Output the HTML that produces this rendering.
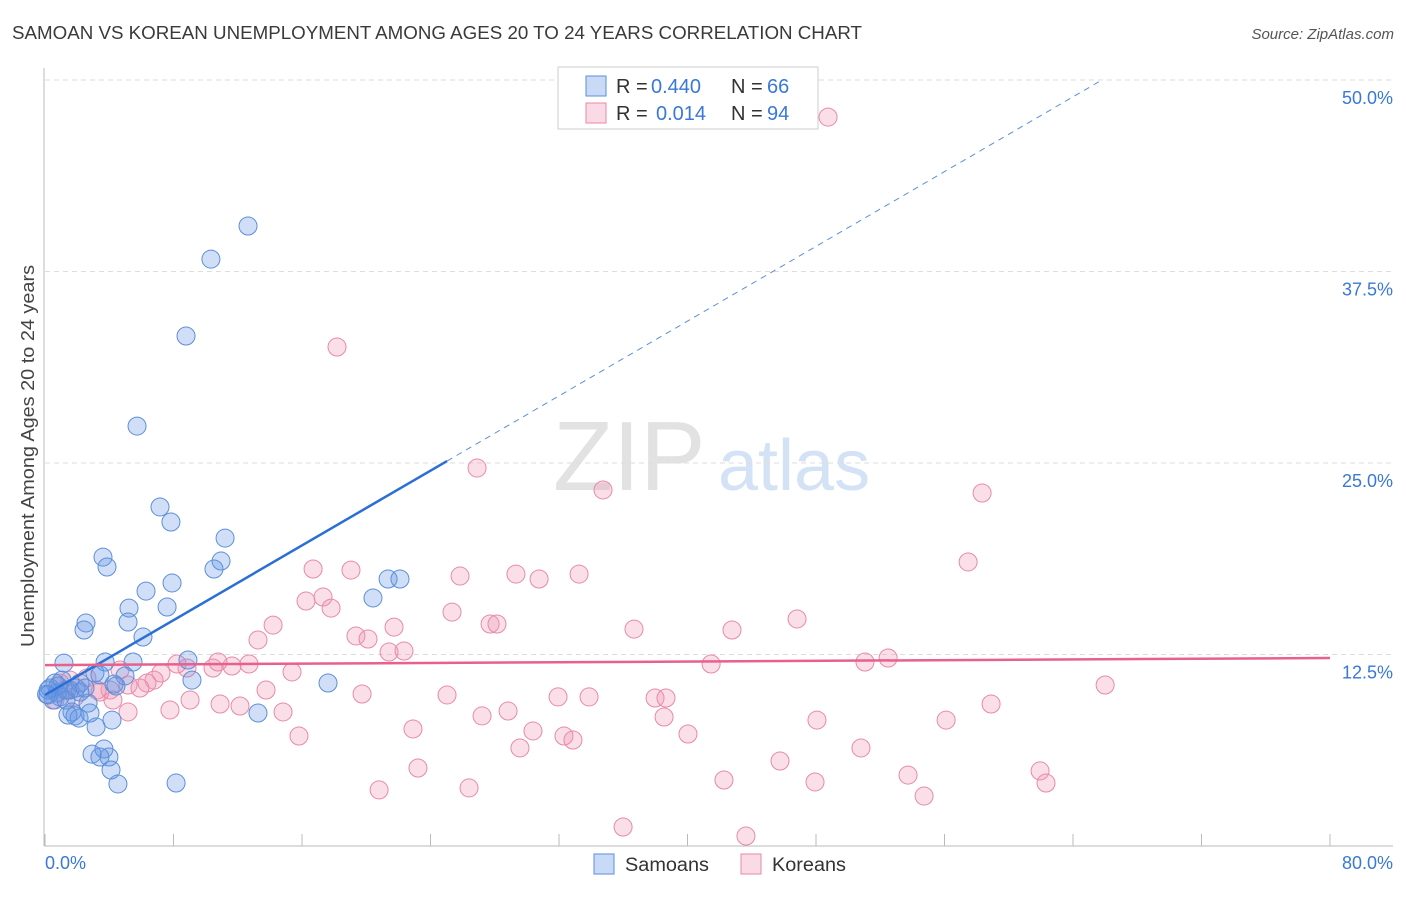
<!DOCTYPE html>
<html><head><meta charset="utf-8"><style>
body{margin:0;background:#fff;font-family:"Liberation Sans",sans-serif;}
svg text{font-family:"Liberation Sans",sans-serif;}
</style></head><body>
<svg id="chart" width="1406" height="892" xmlns="http://www.w3.org/2000/svg">
<text x="12" y="39" font-size="18.6" fill="#3a3a3a" textLength="850" lengthAdjust="spacingAndGlyphs">SAMOAN VS KOREAN UNEMPLOYMENT AMONG AGES 20 TO 24 YEARS CORRELATION CHART</text>
<text x="1394" y="39" font-size="15" fill="#555" text-anchor="end" font-style="italic">Source: ZipAtlas.com</text>
<g>
<text x="553" y="490" font-size="98" fill="#e2e2e2" font-family="Liberation Serif,serif">ZIP</text>
<text x="718" y="490" font-size="72" fill="#d4e2f5">atlas</text>
</g>
<g id="grid"></g>
<g id="axes"></g>
<g id="marks"></g>
<text transform="translate(34,456) rotate(-90)" font-size="18" fill="#444" text-anchor="middle" textLength="382" lengthAdjust="spacingAndGlyphs">Unemployment Among Ages 20 to 24 years</text>
<g>
<rect x="558" y="67" width="260" height="62" fill="#fff" stroke="#ccc"/>
<rect x="586" y="76" width="20" height="20" fill="rgba(100,150,230,0.35)" stroke="#5b8fd9"/>
<rect x="586" y="103" width="20" height="20" fill="rgba(240,150,180,0.35)" stroke="#e88aa8"/>
<text x="616" y="93" font-size="20" fill="#333">R =</text>
<text x="651" y="93" font-size="20" fill="#3a78d8">0.440</text>
<text x="731" y="93" font-size="20" fill="#333">N =</text>
<text x="767" y="93" font-size="20" fill="#3a78d8">66</text>
<text x="616" y="120" font-size="20" fill="#333">R =</text>
<text x="656" y="120" font-size="20" fill="#3a78d8">0.014</text>
<text x="731" y="120" font-size="20" fill="#333">N =</text>
<text x="767" y="120" font-size="20" fill="#3a78d8">94</text>
</g>
<g>
<rect x="594" y="854" width="20" height="20" fill="rgba(100,150,230,0.35)" stroke="#5b8fd9"/>
<text x="625" y="871" font-size="19" fill="#333" textLength="84" lengthAdjust="spacingAndGlyphs">Samoans</text>
<rect x="741" y="854" width="20" height="20" fill="rgba(240,150,180,0.35)" stroke="#e88aa8"/>
<text x="772" y="871" font-size="19" fill="#333" textLength="74" lengthAdjust="spacingAndGlyphs">Koreans</text>
</g>
</svg>
<script>
const blueX=[12.64,10.33,8.78,5.73,7.16,7.84,11.21,10.96,10.52,3.61,3.86,6.29,7.91,7.60,5.23,5.17,2.55,2.43,6.10,21.36,22.10,20.42,1.18,3.74,8.90,5.48,3.11,4.98,17.62,9.15,4.30,4.42,0.62,1.06,2.18,0.31,0.19,0.93,1.56,2.18,0.50,0.75,2.68,1.68,1.87,2.12,2.80,4.17,3.18,13.26,3.67,3.98,2.93,3.42,4.11,4.54,8.16,1.37,0.81,1.93,2.49,1.31,3.42,1.43,0.2,0.1];
const blueY=[40.47,38.31,33.29,27.41,22.13,21.15,20.10,18.60,18.08,18.86,18.21,16.64,17.17,15.60,15.53,14.62,14.56,14.10,13.64,17.43,17.43,16.19,11.94,12.01,12.14,12.01,11.29,11.10,10.64,10.83,10.57,10.44,10.64,10.83,10.64,10.31,9.86,9.73,10.18,10.05,9.53,9.99,9.33,8.75,8.49,8.35,8.68,8.22,7.77,8.68,6.33,5.81,6.00,5.81,4.96,4.05,4.11,10.18,10.44,10.31,10.31,9.53,11.16,8.55,10.18,9.9];
const pinkX=[18.18,26.90,34.74,58.34,57.47,16.69,19.05,25.84,29.32,30.76,33.25,16.25,17.31,17.81,25.34,27.71,28.14,21.73,46.82,36.67,42.77,19.36,20.11,13.26,14.20,21.42,22.35,41.47,51.05,52.49,66.00,10.46,12.70,11.64,10.77,8.84,8.22,7.22,6.79,6.35,5.17,4.05,4.23,3.24,2.61,0.93,0.62,10.90,12.14,13.76,15.38,19.74,25.03,31.94,33.87,37.98,38.66,5.17,7.78,14.82,15.81,22.91,27.21,28.83,30.38,32.31,32.87,29.57,38.54,40.03,48.06,56.10,58.90,45.76,50.80,23.22,20.80,26.40,42.27,47.94,53.73,54.73,61.95,62.32,35.99,43.64,48.75,4.67,1.87,1.25,1.56,3.42,5.91,9.03];
const pinkY=[32.57,24.67,23.24,23.04,18.54,18.08,18.01,17.62,17.75,17.43,17.75,15.99,16.25,15.53,15.27,14.49,14.49,14.29,14.82,14.16,14.10,13.71,13.51,13.45,14.42,12.66,12.73,11.88,12.01,12.27,10.51,11.62,11.88,11.75,12.01,11.62,11.88,11.29,10.83,10.64,10.51,10.18,9.53,10.18,10.97,10.64,9.53,9.27,9.14,10.18,11.36,9.92,9.86,9.73,9.73,9.66,9.66,8.75,8.88,8.75,7.18,7.64,8.49,8.81,7.51,7.18,6.92,6.40,8.42,7.31,8.22,8.22,9.27,5.55,6.40,5.09,3.66,3.79,4.31,4.18,4.63,3.26,4.90,4.11,1.24,0.65,47.58,11.49,9.73,10.18,10.83,10.05,10.31,9.53];
const yTicks=[12.5,25,37.5,50];
const yTickLabels=["12.5%","25.0%","37.5%","50.0%"];
const xTickVals=[0,8,16,24,32,40,48,56,64,72,80];
const xEndLabels=["0.0%","80.0%"];
const blueTrend=[9.86,0.61];
const pinkTrend=[11.81,0.00575];
const blueSolidEnd=25.03;

const NS="http://www.w3.org/2000/svg";
const X=v=>45+v/80*1285;
const Y=v=>846-v/50*766;
function mk(tag,attrs,parent){const e=document.createElementNS(NS,tag);for(const k in attrs)e.setAttribute(k,attrs[k]);document.getElementById(parent).appendChild(e);return e;}

yTicks.forEach((t,i)=>{
  const g=mk('line',{x1:45,x2:1393,y1:Y(t),y2:Y(t),stroke:'#ddd','stroke-dasharray':'5,4'},'grid');
  
  
  const l=mk('text',{x:1393,y:Y(t)+24,'font-size':18,fill:'#3a78d8','text-anchor':'end'},'grid');
  l.textContent=yTickLabels[i];
  
  
});
const ya=mk('line',{x1:44,x2:44,y1:68,y2:846,stroke:'#bbb'},'axes');


const xa=mk('line',{x1:44,x2:1393,y1:846,y2:846,stroke:'#bbb'},'axes');


xTickVals.forEach(v=>{
  const t=mk('line',{x1:X(v),x2:X(v),y1:846,y2:834,stroke:'#bbb'},'axes');
  
  
});
const xl0=mk('text',{x:45,y:869,'font-size':18,fill:'#3a78d8'},'axes');
xl0.textContent=xEndLabels[0];


const xl1=mk('text',{x:1393,y:869,'font-size':18,fill:'#3a78d8','text-anchor':'end'},'axes');
xl1.textContent=xEndLabels[1];



pinkX.forEach((x,i)=>{
  const c=mk('circle',{cx:X(x),cy:Y(pinkY[i]),r:9,fill:'rgba(240,150,180,0.3)',stroke:'#e88aa8','stroke-width':1},'marks');
  
  
});
blueX.forEach((x,i)=>{
  const c=mk('circle',{cx:X(x),cy:Y(blueY[i]),r:9,fill:'rgba(100,150,230,0.3)',stroke:'#5b8fd9','stroke-width':1},'marks');
  
  
});
const bEnd=(50-blueTrend[0])/blueTrend[1];
const bs=mk('line',{x1:X(0),y1:Y(blueTrend[0]),x2:X(blueSolidEnd),y2:Y(blueTrend[0]+blueTrend[1]*blueSolidEnd),stroke:'#2a6fd6','stroke-width':2.5},'marks');


const bd=mk('line',{x1:X(blueSolidEnd),y1:Y(blueTrend[0]+blueTrend[1]*blueSolidEnd),x2:X(bEnd),y2:Y(50),stroke:'#5b8fd9','stroke-width':1,'stroke-dasharray':'6,5'},'marks');


const pl=mk('line',{x1:X(0),y1:Y(pinkTrend[0]),x2:X(80),y2:Y(pinkTrend[0]+pinkTrend[1]*80),stroke:'#e8608c','stroke-width':2.5},'marks');


</script>
</body></html>
